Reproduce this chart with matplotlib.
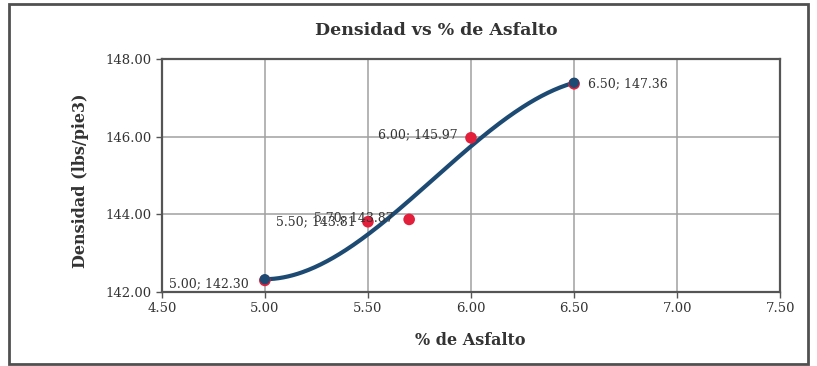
import matplotlib
matplotlib.use("Agg")
import matplotlib.pyplot as plt
from matplotlib.patches import Rectangle
import numpy as np

# Measured densities (red points)
asphalt_pct = [5.00, 5.50, 5.70, 6.00, 6.50]
density = [142.30, 143.81, 143.87, 145.97, 147.36]

x_ticks = [4.50, 5.00, 5.50, 6.00, 6.50, 7.00, 7.50]
y_ticks = [142.00, 144.00, 146.00, 148.00]

FONT = "DejaVu Serif"
TXT = "#333333"
RED = "#e3203c"
BLUE = "#1c4a72"

fig = plt.figure(figsize=(8.17, 3.66), dpi=100)
fig.patch.set_facecolor("white")
ax = fig.add_axes([0.198, 0.202, 0.757, 0.637])

ax.set_xlim(4.5, 7.5)
ax.set_ylim(142, 148)
ax.set_xticks(x_ticks)
ax.set_yticks(y_ticks)
ax.set_xticklabels([f"{v:.2f}" for v in x_ticks], fontfamily=FONT, fontsize=9.5, color=TXT)
ax.set_yticklabels([f"{v:.2f}" for v in y_ticks], fontfamily=FONT, fontsize=9.5, color=TXT)
ax.tick_params(direction="out", length=4, width=1, colors="#555555", labelcolor=TXT)
ax.grid(True, color="#a0a0a0", linewidth=1.1)
ax.set_axisbelow(True)
for s in ax.spines.values():
    s.set_color("#555555")
    s.set_linewidth(1.6)

# Third-order polynomial trend line of the measurements
coef = np.polyfit(asphalt_pct, density, 3)
trend = np.poly1d(coef)
xs = np.linspace(min(asphalt_pct), max(asphalt_pct), 200)
ax.plot(xs, trend(xs), color=BLUE, linewidth=3, zorder=3, solid_capstyle="round")

ax.scatter(asphalt_pct, density, s=70, color=RED, zorder=4, edgecolors="none")
ends = [min(asphalt_pct), max(asphalt_pct)]
ax.scatter(ends, trend(ends), s=55, color=BLUE, zorder=5, edgecolors="none")

# Data labels
label_pos = {
    0: (-16, -3, "right"),
    1: (-12, 0, "right"),
    2: (-16, 2, "right"),
    3: (-13, 3, "right"),
    4: (14, 0, "left"),
}
for i, (x, y) in enumerate(zip(asphalt_pct, density)):
    dx, dy, ha = label_pos[i]
    ax.annotate(f"{x:.2f}; {y:.2f}", (x, y), xytext=(dx, dy), textcoords="offset pixels",
                ha=ha, va="center", fontfamily=FONT, fontsize=9, color=TXT, zorder=6)

fig.text(0.534, 0.918, "Densidad vs % de Asfalto", ha="center", va="center",
         fontfamily=FONT, fontsize=12.5, fontweight="bold", color=TXT)
fig.text(0.575, 0.07, "% de Asfalto", ha="center", va="center",
         fontfamily=FONT, fontsize=11.5, fontweight="bold", color=TXT)
fig.text(0.098, 0.505, "Densidad (lbs/pie3)", ha="center", va="center", rotation=90,
         fontfamily=FONT, fontsize=11.5, fontweight="bold", color=TXT)

# Chart frame
fig.patches.append(Rectangle((9 / 817, 1 - 364 / 366), 799 / 817, 360 / 366,
                             transform=fig.transFigure, fill=False,
                             edgecolor="#505050", linewidth=2))

fig.savefig("out.png", dpi=100, facecolor="white")
